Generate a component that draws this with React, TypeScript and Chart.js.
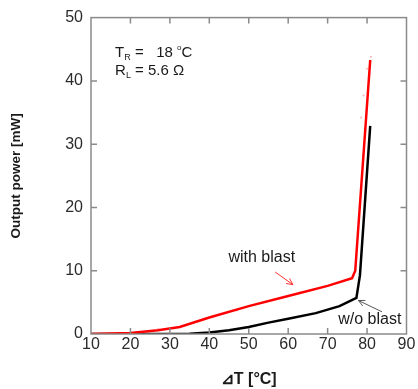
import React, { useEffect, useRef } from "react";
import { Chart, registerables } from "chart.js";
Chart.register(...registerables);

// ---- data ----
const withBlastT = [10, 20, 27, 32.5, 40, 50, 60, 70, 76.2, 77, 80.8];
const withBlastP = [0, 0.15, 0.6, 1.1, 2.6, 4.4, 6.0, 7.6, 8.8, 10, 43.3];
const withoutBlastT = [10, 30, 35, 40, 45, 50, 55, 60, 67, 73, 77.3, 78.2, 80.8];
const withoutBlastP = [0, 0, 0.05, 0.25, 0.6, 1.1, 1.8, 2.4, 3.3, 4.4, 5.7, 9.3, 32.9];
const markerT = [27, 33, 37, 47, 52, 63, 71, 78.5, 79.1, 80, 81];
const markerP = [0.8, 1.3, 2.0, 3.7, 4.8, 6.6, 7.8, 34.2, 37.7, 41.9, 43.8];
const xTicks = [10, 20, 30, 40, 50, 60, 70, 80, 90];
const yTicks = [0, 10, 20, 30, 40, 50];

const xTitle = "⊿T [°C]";
const yTitle = "Output power [mW]";
const labelWith = "with blast";
const labelWithout = "w/o blast";

const FONT = "'Liberation Sans', Arial, sans-serif";

const toPts = (xs: number[], ys: number[]) => xs.map((x, i) => ({ x, y: ys[i] }));

function arrow(ctx: CanvasRenderingContext2D, x1: number, y1: number, x2: number, y2: number, color: string) {
  ctx.save();
  ctx.strokeStyle = color;
  ctx.lineWidth = 1;
  ctx.beginPath();
  ctx.moveTo(x1, y1);
  ctx.lineTo(x2, y2);
  const a = Math.atan2(y2 - y1, x2 - x1);
  const h = 7;
  ctx.moveTo(x2, y2);
  ctx.lineTo(x2 - h * Math.cos(a - 0.45), y2 - h * Math.sin(a - 0.45));
  ctx.moveTo(x2, y2);
  ctx.lineTo(x2 - h * Math.cos(a + 0.45), y2 - h * Math.sin(a + 0.45));
  ctx.stroke();
  ctx.restore();
}

function rich(ctx: CanvasRenderingContext2D, x: number, y: number, parts: { t: string; s: number; dy: number }[]) {
  let cx = x;
  ctx.textBaseline = "alphabetic";
  ctx.textAlign = "left";
  for (const p of parts) {
    ctx.font = `${p.s}px ${FONT}`;
    ctx.fillText(p.t, cx, y + p.dy);
    cx += ctx.measureText(p.t).width;
  }
}

const framePlugin = {
  id: "frame",
  afterDraw(chart: any) {
    const { ctx, chartArea: a, scales } = chart;
    const xs = scales.x, ys = scales.y;
    ctx.save();
    ctx.strokeStyle = "#8a8a8a";
    ctx.lineWidth = 1.5;
    ctx.strokeRect(a.left, a.top, a.right - a.left, a.bottom - a.top);
    ctx.beginPath();
    xTicks.slice(1, -1).forEach((v) => {
      const px = xs.getPixelForValue(v);
      ctx.moveTo(px, a.bottom);
      ctx.lineTo(px, a.bottom - 6);
      ctx.moveTo(px, a.top);
      ctx.lineTo(px, a.top + 6);
    });
    yTicks.slice(1, -1).forEach((v) => {
      const py = ys.getPixelForValue(v);
      ctx.moveTo(a.left, py);
      ctx.lineTo(a.left + 6, py);
      ctx.moveTo(a.right, py);
      ctx.lineTo(a.right - 6, py);
    });
    ctx.stroke();

    // annotations
    ctx.fillStyle = "#1a1a1a";
    const X = (v: number) => xs.getPixelForValue(v);
    const Y = (v: number) => ys.getPixelForValue(v);
    rich(ctx, X(16.1), Y(43.8), [
      { t: "T", s: 15, dy: 0 },
      { t: "R", s: 9, dy: 3 },
      { t: " =   18 ", s: 15, dy: 0 },
      { t: "o", s: 8, dy: -7 },
      { t: "C", s: 15, dy: 0 },
    ]);
    rich(ctx, X(16.1), Y(40.9), [
      { t: "R", s: 15, dy: 0 },
      { t: "L", s: 9, dy: 3 },
      { t: " = 5.6 Ω", s: 15, dy: 0 },
    ]);
    ctx.font = `16px ${FONT}`;
    ctx.textAlign = "center";
    ctx.textBaseline = "middle";
    ctx.fillText(labelWith, X(53.3), Y(12.1));
    ctx.fillText(labelWithout, X(80.7), Y(2.2));
    arrow(ctx, X(56.7), Y(9.8), X(61.2), Y(7.8), "#ff3030");
    arrow(ctx, X(83.8), Y(3.5), X(77.8), Y(5.3), "#555555");
    ctx.restore();
  },
};

export default function App() {
  const ref = useRef<HTMLCanvasElement>(null);
  useEffect(() => {
    document.body.style.margin = "0";
    const chart = new Chart(ref.current!, {
      type: "line",
      data: {
        datasets: [
          {
            label: "with blast",
            data: toPts(withBlastT, withBlastP),
            borderColor: "#ff0000",
            borderWidth: 2.5,
            pointRadius: 0,
            tension: 0,
            order: 0,
          },
          {
            label: "w/o blast",
            data: toPts(withoutBlastT, withoutBlastP),
            borderColor: "#000000",
            borderWidth: 2.5,
            pointRadius: 0,
            tension: 0,
            order: 1,
          },
          {
            label: "markers",
            data: toPts(markerT, markerP),
            showLine: false,
            pointRadius: 1,
            pointBorderWidth: 0,
            pointBackgroundColor: "rgba(255,90,90,0.45)",
            borderColor: "rgba(0,0,0,0)",
            order: 2,
          },
        ],
      },
      options: {
        animation: false,
        responsive: false,
        devicePixelRatio: 1,
        layout: { padding: { top: 16, right: 11.5, left: 0, bottom: 0 } },
        plugins: { legend: { display: false }, tooltip: { enabled: false } },
        scales: {
          x: {
            type: "linear",
            min: 10,
            max: 90,
            afterBuildTicks: (s: any) => { s.ticks = xTicks.map((v) => ({ value: v })); },
            afterFit: (s: any) => { s.height = 55; },
            grid: { display: false, drawTicks: false },
            border: { display: false },
            ticks: { color: "#2b2b2b", font: { family: FONT, size: 16 }, padding: 1, maxRotation: 0 },
            title: { display: true, text: xTitle, color: "#1a1a1a", font: { family: FONT, size: 16, weight: "bold" }, padding: { top: 0, bottom: 0 } },
          },
          y: {
            type: "linear",
            min: 0,
            max: 50,
            afterBuildTicks: (s: any) => { s.ticks = yTicks.map((v) => ({ value: v })); },
            afterFit: (s: any) => { s.width = 91; },
            grid: { display: false, drawTicks: false },
            border: { display: false },
            ticks: { color: "#2b2b2b", font: { family: FONT, size: 16 }, padding: 8 },
            title: { display: true, text: yTitle, color: "#1a1a1a", font: { family: FONT, size: 13.5, weight: "bold" }, padding: { top: 8, bottom: 0 } },
          },
        },
      },
      plugins: [framePlugin],
    } as any);
    return () => chart.destroy();
  }, []);
  return <canvas ref={ref} width={418} height={389} style={{ display: "block" }} />;
}
